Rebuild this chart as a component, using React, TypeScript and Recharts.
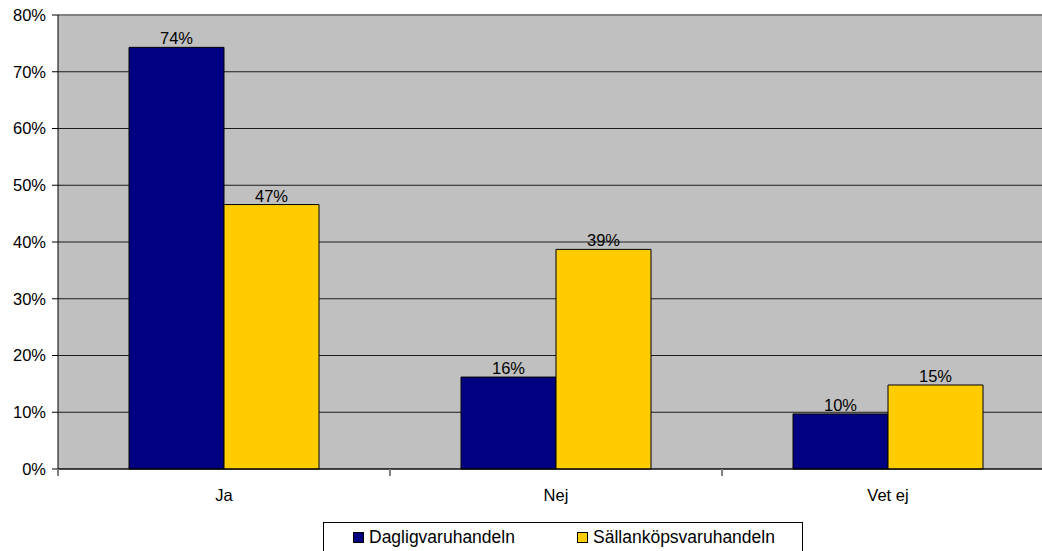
import React from "react";
import {
  BarChart,
  Bar,
  XAxis,
  YAxis,
  CartesianGrid,
  LabelList,
  Legend,
  ReferenceLine,
} from "recharts";

const categories = ["Ja", "Nej", "Vet ej"];
const dagligvaruhandeln = [74.3, 16.2, 9.7];
const sallankopsvaruhandeln = [46.6, 38.7, 14.8];
const yTicks = [0, 10, 20, 30, 40, 50, 60, 70, 80];
const seriesNames = ["Dagligvaruhandeln", "Sällanköpsvaruhandeln"];
const seriesColors = ["#000080", "#FFCC00"];

const data = categories.map((c, i) => ({
  name: c,
  d: dagligvaruhandeln[i],
  s: sallankopsvaruhandeln[i],
}));

const FONT = "'Liberation Sans', Arial, sans-serif";

const XTick = (props: any) => {
  const { x, y, payload } = props;
  const off = payload.offset || 0;
  return (
    <g>
      <line x1={x - off} x2={x - off} y1={y - 8} y2={y - 1} stroke="#808080" strokeWidth={2} />
      <text
        x={x}
        y={y + 24}
        textAnchor="middle"
        fontSize={16.5}
        fontFamily={FONT}
        fill="#000"
      >
        {payload.value}
      </text>
    </g>
  );
};

const LegendBox = () => (
  <div
    style={{
      width: 478,
      height: 40,
      border: "1px solid #000",
      background: "#fff",
      position: "relative",
      fontFamily: FONT,
      fontSize: 17.5,
      color: "#000",
    }}
  >
    {seriesNames.map((n, i) => (
      <div
        key={n}
        style={{
          position: "absolute",
          left: i === 0 ? 29 : 253,
          top: 4,
          display: "flex",
          alignItems: "center",
          whiteSpace: "nowrap",
        }}
      >
        <span
          style={{
            display: "inline-block",
            width: 9,
            height: 9,
            background: seriesColors[i],
            border: "1px solid #000",
            marginRight: 5,
          }}
        />
        <span>{n}</span>
      </div>
    ))}
  </div>
);

export default function App() {
  return (
    <div
      style={{
        position: "absolute",
        left: 0,
        top: 0,
        width: 1042,
        height: 551,
        overflow: "hidden",
        background: "#fff",
      }}
    >
      <BarChart
        width={1054}
        height={551}
        data={data}
        margin={{ top: 15, right: 0, bottom: 0, left: 0 }}
        barCategoryGap={71}
        barGap={0}
      >
        <CartesianGrid
          horizontal={true}
          vertical={false}
          fill="#C0C0C0"
          stroke="#000"
          strokeOpacity={0.85}
        />
        <XAxis
          dataKey="name"
          height={82}
          axisLine={{ stroke: "#000", strokeWidth: 1 }}
          tickLine={false}
          tick={<XTick />}
          interval={0}
        />
        <YAxis
          width={58}
          domain={[0, 80]}
          ticks={yTicks}
          tickFormatter={(v: number) => `${v}%`}
          axisLine={{ stroke: "#000" }}
          tickLine={{ stroke: "#000" }}
          tickSize={6}
          tickMargin={6}
          tick={{ fontSize: 16.5, fontFamily: FONT, fill: "#000" }}
          interval={0}
        />
        <ReferenceLine y={80} stroke="#808080" strokeWidth={2} />
        <Legend
          verticalAlign="middle"
          layout="horizontal"
          content={<LegendBox />}
          wrapperStyle={{ position: "absolute", left: 323, top: 522, width: 480, height: 42 }}
        />
        <Bar
          dataKey="d"
          name={seriesNames[0]}
          fill={seriesColors[0]}
          stroke="#000"
          strokeWidth={1}
          isAnimationActive={false}
        >
          <LabelList
            dataKey="d"
            position="top"
            offset={3}
            formatter={(v: any) => `${Math.round(Number(v))}%`}
            style={{ fontSize: 16.5, fontFamily: FONT, fill: "#000" }}
          />
        </Bar>
        <Bar
          dataKey="s"
          name={seriesNames[1]}
          fill={seriesColors[1]}
          stroke="#000"
          strokeWidth={1}
          isAnimationActive={false}
        >
          <LabelList
            dataKey="s"
            position="top"
            offset={3}
            formatter={(v: any) => `${Math.round(Number(v))}%`}
            style={{ fontSize: 16.5, fontFamily: FONT, fill: "#000" }}
          />
        </Bar>
      </BarChart>
    </div>
  );
}
